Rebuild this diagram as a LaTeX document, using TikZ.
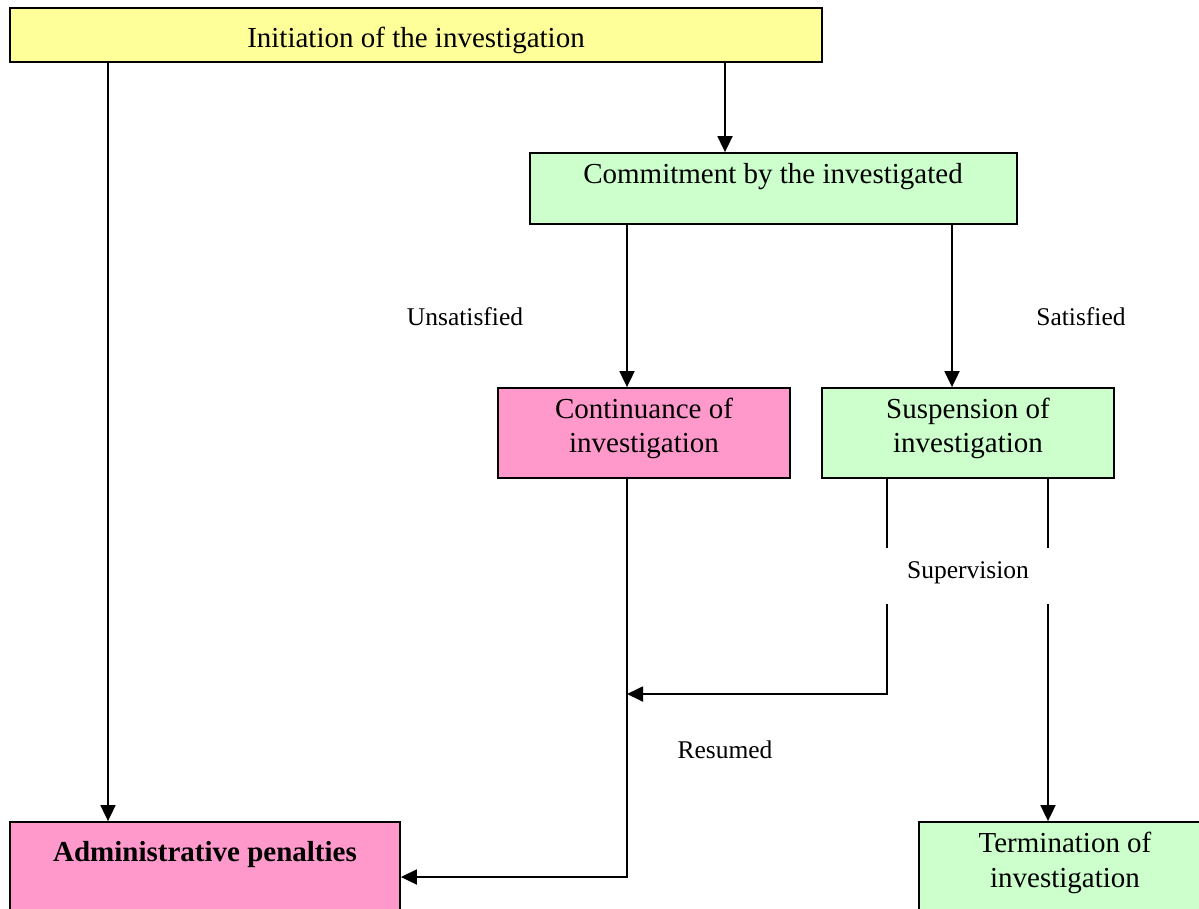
\documentclass[tikz,border=0pt]{standalone}
\usepackage{fontspec}
\setmainfont{Liberation Serif}
\usetikzlibrary{arrows.meta}
\definecolor{yel}{HTML}{FFFF99}
\definecolor{grn}{HTML}{CCFFCC}
\definecolor{pnk}{HTML}{FF99CC}
\begin{document}
\begin{tikzpicture}[x=1pt,y=-1pt,
  box/.style={draw=black,line width=1.8pt,rectangle,inner sep=0pt},
  btext/.style={font=\fontsize{29}{34}\selectfont,anchor=base,inner sep=0pt},
  ltext/.style={font=\fontsize{25.5}{30}\selectfont,anchor=base,inner sep=0pt},
  conn/.style={line width=1.8pt},
  arr/.style={conn,-{Triangle[width=15pt,length=16pt]}}]
\useasboundingbox (0,0) rectangle (1199,908);
\clip (0,0) rectangle (1199,908);
\fill[white] (0,0) rectangle (1199,908);
% boxes
\node[box,fill=yel,minimum width=812pt,minimum height=54pt] (init) at (416,35) {};
\node[box,fill=grn,minimum width=487pt,minimum height=71pt] (commit) at (773.5,188.5) {};
\node[box,fill=pnk,minimum width=292pt,minimum height=90pt] (cont) at (644,433) {};
\node[box,fill=grn,minimum width=292pt,minimum height=90pt] (susp) at (968,433) {};
\node[box,fill=pnk,minimum width=390pt,minimum height=108pt] (admin) at (205,876) {};
\node[box,fill=grn,minimum width=292pt,minimum height=108pt] (term) at (1065,876) {};
% box texts
\node[btext] (initT) at (416,47) {Initiation of the investigation};
\node[btext] (commitT) at (773,183) {Commitment by the investigated};
\node[btext] (contT1) at (644,418) {Continuance of};
\node[btext] (contT2) at (644,452) {investigation};
\node[btext] (suspT1) at (968,418) {Suspension of};
\node[btext] (suspT2) at (968,452) {investigation};
\node[btext,font=\fontsize{29}{34}\selectfont\bfseries] (adminT) at (205,861) {Administrative penalties};
\node[btext] (termT1) at (1065,852) {Termination of};
\node[btext] (termT2) at (1065,887) {investigation};
% connectors
\draw[arr] (init.south -| 108,0) -- (admin.north -| 108,0);
\draw[arr] (init.south -| 725,0) -- (commit.north -| 725,0);
\draw[arr] (commit.south -| 627,0) -- (cont.north -| 627,0);
\draw[arr] (commit.south -| 952,0) -- (susp.north -| 952,0);
\coordinate (resumeJoin) at (627,694);
\draw[arr] (susp.south -| 887,0) |- (resumeJoin);
\draw[arr] (cont.south -| 627,0) |- (admin.east |- 0,877);
\draw[arr] (susp.south -| 1048,0) -- (term.north -| 1048,0);
% labels
\node[ltext] (unsat) at (465,325) {Unsatisfied};
\node[ltext] (sat) at (1081,325) {Satisfied};
\node[fill=white,inner sep=0pt,minimum width=168pt,minimum height=56pt] (supbg) at (967.5,576) {};
\node[ltext] (sup) at (968,578) {Supervision};
\node[ltext] (res) at (725,758) {Resumed};
\end{tikzpicture}
\end{document}
